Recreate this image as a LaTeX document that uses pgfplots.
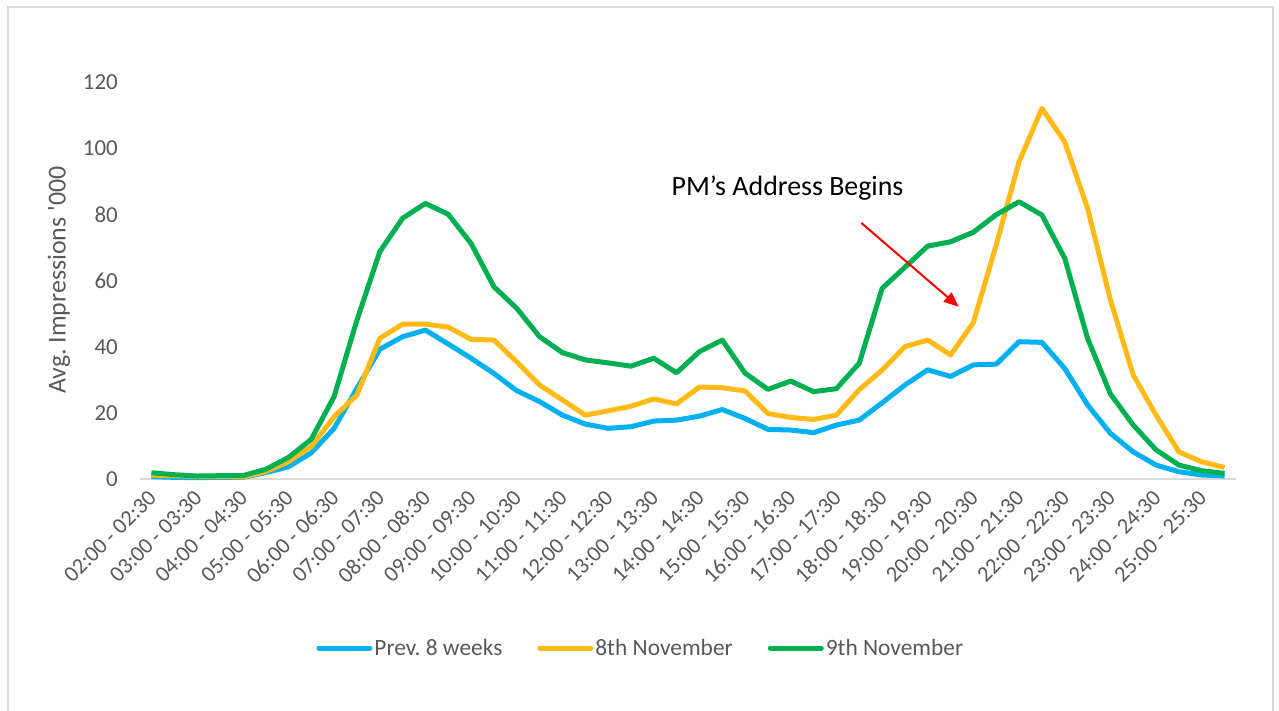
\documentclass[border=0pt]{standalone}
\usepackage{fontspec}
\setmainfont{Carlito}
\usepackage{pgfplots}
\pgfplotsset{compat=1.18}
\usetikzlibrary{arrows.meta}
\definecolor{prevblue}{HTML}{00B0F0}
\definecolor{novgold}{HTML}{FFBA18}
\definecolor{novgreen}{HTML}{00B050}
\definecolor{txtgray}{HTML}{595959}
\definecolor{linegray}{HTML}{D9D9D9}
\frenchspacing

\begin{document}
\begin{tikzpicture}
\path[use as bounding box] (0,0) rectangle (1279bp,711bp);
\draw[linegray, line width=2bp] (8bp,-5bp) -- (8bp,704bp) -- (1273bp,704bp) -- (1273bp,-5bp);
\begin{axis}[
    at={(140bp,232bp)}, anchor=south west,
    scale only axis, width=1096bp, height=397bp,
    xmin=-0.5, xmax=47.5, ymin=0, ymax=120,
    axis line style={draw=none}, major tick length=0pt,
    clip=false,
    xtick={0,2,...,46},
    xticklabels={02:00 - 02:30,03:00 - 03:30,04:00 - 04:30,05:00 - 05:30,06:00 - 06:30,07:00 - 07:30,
      08:00 - 08:30,09:00 - 09:30,10:00 - 10:30,11:00 - 11:30,12:00 - 12:30,13:00 - 13:30,
      14:00 - 14:30,15:00 - 15:30,16:00 - 16:30,17:00 - 17:30,18:00 - 18:30,19:00 - 19:30,
      20:00 - 20:30,21:00 - 21:30,22:00 - 22:30,23:00 - 23:30,24:00 - 24:30,25:00 - 25:30},
    xticklabel style={xshift=1bp, yshift=-15bp, rotate=45, anchor=east, inner sep=0pt,
      font=\fontsize{22.5}{27}\selectfont, text=txtgray},
    ytick={0,20,...,120},
    yticklabel style={anchor=east, inner sep=0pt, xshift=-22bp,
      font=\fontsize{23}{27}\selectfont, text=txtgray},
    /pgf/number format/assume math mode=true,
    ylabel={Avg. Impressions \textquotesingle 000},
    ylabel style={at={(axis description cs:-0.074,0.501)}, anchor=center,
      font=\fontsize{26}{30}\selectfont, text=txtgray},
    legend columns=3,
    legend style={at={(axis description cs:0.457,-0.4257)}, anchor=center,
      draw=none, fill=none, font=\fontsize{23.5}{28}\selectfont, text=txtgray,
      nodes={inner sep=2bp},
      /tikz/every even column/.append style={column sep=33bp}},
    legend image code/.code={\draw[#1, line width=5bp, line cap=round] (2.5bp,0bp) -- (53.5bp,0bp);},
    every axis plot/.append style={line width=5bp, line join=round},
]
\draw[linegray, line width=1.5bp] (axis cs:-0.5,0) -- (axis cs:47.5,0);

\addplot[color=prevblue] coordinates {
(0,0.7) (1,0.5) (2,0.4) (3,0.5) (4,0.5) (5,1.9) (6,3.7) (7,7.9) (8,15.3) (9,27.4)
(10,39.2) (11,43.0) (12,45.0) (13,40.8) (14,36.5) (15,31.9) (16,26.7) (17,23.4) (18,19.3) (19,16.6)
(20,15.3) (21,15.8) (22,17.5) (23,17.8) (24,19.0) (25,21.0) (26,18.3) (27,15.0) (28,14.8) (29,14.0)
(30,16.3) (31,17.8) (32,23.0) (33,28.4) (34,33.0) (35,31.0) (36,34.5) (37,34.7) (38,41.5) (39,41.3)
(40,33.4) (41,22.4) (42,13.8) (43,8.2) (44,4.2) (45,2.2) (46,1.2) (47,0.9)};
\addlegendentry{Prev. 8 weeks}

\addplot[color=novgold] coordinates {
(0,1.2) (1,1.0) (2,0.8) (3,0.8) (4,0.6) (5,2.2) (6,5.2) (7,9.8) (8,18.8) (9,25.4)
(10,42.5) (11,46.8) (12,46.8) (13,45.9) (14,42.2) (15,42.0) (16,35.4) (17,28.4) (18,23.9) (19,19.3)
(20,20.6) (21,22.0) (22,24.2) (23,22.7) (24,27.8) (25,27.6) (26,26.6) (27,19.8) (28,18.6) (29,18.0)
(30,19.3) (31,27.0) (32,32.9) (33,40.0) (34,42.0) (35,37.5) (36,47.3) (37,70.8) (38,95.9) (39,112.0)
(40,101.9) (41,81.8) (42,54.1) (43,31.4) (44,19.3) (45,8.2) (46,5.2) (47,3.5)};
\addlegendentry{8th November}

\addplot[color=novgreen] coordinates {
(0,1.9) (1,1.3) (2,0.9) (3,1.0) (4,1.0) (5,2.9) (6,6.5) (7,12.0) (8,24.9) (9,48.0)
(10,68.7) (11,78.8) (12,83.3) (13,80.0) (14,71.2) (15,58.1) (16,51.6) (17,43.0) (18,38.2) (19,36.0)
(20,35.1) (21,34.1) (22,36.5) (23,32.1) (24,38.5) (25,42.0) (26,32.0) (27,27.1) (28,29.6) (29,26.4)
(30,27.3) (31,35.0) (32,57.6) (33,64.0) (34,70.4) (35,71.7) (36,74.6) (37,79.9) (38,83.8) (39,79.8)
(40,66.7) (41,42.5) (42,25.7) (43,16.3) (44,8.8) (45,4.2) (46,2.5) (47,1.7)};
\addlegendentry{9th November}

\node[anchor=base, font=\fontsize{28}{32}\selectfont, text=black, inner sep=0pt]
  at (axis cs:27.86,85.8) {PM’s Address Begins};
\draw[red, line width=2bp, -{Triangle[length=15bp,width=12bp]}]
  (axis cs:31.09,77.4) -- (axis cs:35.36,52.05);
\end{axis}
\end{tikzpicture}
\end{document}
